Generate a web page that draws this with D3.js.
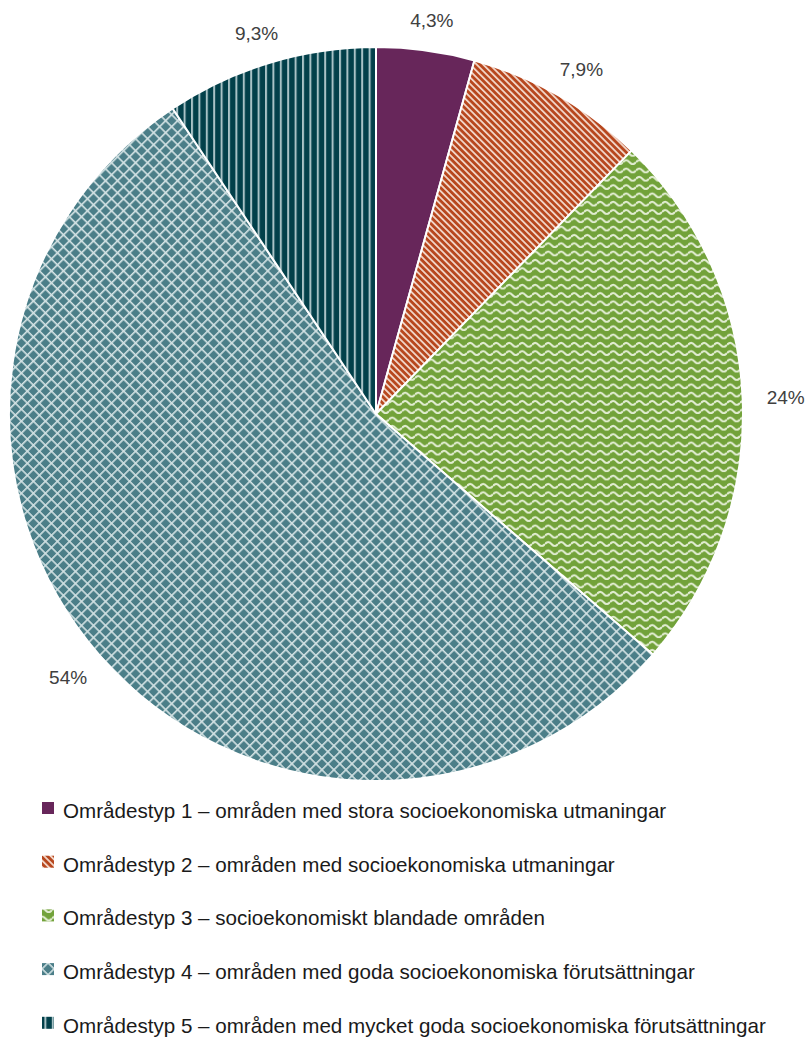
<!DOCTYPE html>
<html><head><meta charset="utf-8">
<script src="https://cdnjs.cloudflare.com/ajax/libs/d3/7.8.5/d3.min.js"></script>
<style>html,body{margin:0;padding:0;background:#fff;}svg{display:block;}</style>
</head><body>
<svg id="chart" width="808" height="1037"></svg>
<script>
const categories = [
  "Områdestyp 1 – områden med stora socioekonomiska utmaningar",
  "Områdestyp 2 – områden med socioekonomiska utmaningar",
  "Områdestyp 3 – socioekonomiskt blandade områden",
  "Områdestyp 4 – områden med goda socioekonomiska förutsättningar",
  "Områdestyp 5 – områden med mycket goda socioekonomiska förutsättningar"
];
const values = [4.3, 7.9, 24, 54, 9.3];
const valueLabels = ["4,3%", "7,9%", "24%", "54%", "9,3%"];
const baseColors = ["#67265A", "#B7471E", "#72A23A", "#4B7E88", "#02404A"];

const W = 808, H = 1037;
const cx = 376, cy = 414, R = 367;
const svg = d3.select("#chart");
const defs = svg.append("defs");

function pat(id, w, h, base, transform) {
  const p = defs.append("pattern").attr("id", id).attr("patternUnits", "userSpaceOnUse")
    .attr("width", w).attr("height", h);
  if (transform) p.attr("patternTransform", transform);
  p.append("rect").attr("width", w).attr("height", h).attr("fill", base);
  return p;
}
// type 2: diagonal stripes
pat("p1", 4.6, 4.6, baseColors[1], "rotate(-45)")
  .append("rect").attr("x", 0).attr("y", 0).attr("width", 1.8).attr("height", 4.6).attr("fill", "#f2d6c8");
// type 3: waves
pat("p2", 13, 8.3, baseColors[2], null)
  .append("path").attr("d", "M0,5.5 Q3.25,1.5 6.5,5.5 T13,5.5").attr("fill", "none")
  .attr("stroke", "#e2edd2").attr("stroke-width", 2);
// type 4: diamond lattice
const p3 = pat("p3", 8.5, 8.5, baseColors[3], "rotate(45)");
p3.append("rect").attr("x", 0).attr("y", 0).attr("width", 1.6).attr("height", 8.5).attr("fill", "#d3e2e4");
p3.append("rect").attr("x", 0).attr("y", 0).attr("width", 8.5).attr("height", 1.6).attr("fill", "#d3e2e4");
// type 5: vertical lines
pat("p4", 7.4, 7.4, baseColors[4], null)
  .append("rect").attr("x", 0).attr("y", 0).attr("width", 2).attr("height", 7.4).attr("fill", "#a8c2c6");

const fills = [baseColors[0], "url(#p1)", "url(#p2)", "url(#p3)", "url(#p4)"];

const data = categories.map((c, i) => ({ cat: c, value: values[i], label: valueLabels[i], i }));
const pie = d3.pie().value(d => d.value).sort(null).startAngle(0).endAngle(2 * Math.PI);
const arcs = pie(data);
const arc = d3.arc().innerRadius(0).outerRadius(R);

const g = svg.append("g").attr("transform", `translate(${cx},${cy})`);
g.selectAll("path.slice").data(arcs).join("path").attr("class", "slice")
  .attr("d", arc).attr("fill", d => fills[d.data.i])
  .attr("stroke", "#fff").attr("stroke-width", 2).attr("stroke-linejoin", "round");

const fontFam = "'Liberation Sans', Arial, Helvetica, sans-serif";
const labelG = g.append("g");
arcs.forEach(d => {
  const a = (d.startAngle + d.endAngle) / 2;
  const s = Math.sin(a), c = -Math.cos(a);
  const t = labelG.append("text").attr("font-family", fontFam).attr("font-size", 19)
    .attr("fill", "#404040").attr("text-anchor", "middle").text(d.data.label);
  const bb = t.node().getBBox();
  const w = bb.width, h = 14;
  const x = (R + 24) * s + (w / 2) * s;
  const y = (R + 24) * c + (h / 2) * c;
  t.attr("x", x).attr("y", y + h / 2);
});

const legY0 = 818, legStep = 53.7;
const leg = svg.append("g");
data.forEach((d, i) => {
  const y = legY0 + i * legStep;
  leg.append("rect").attr("x", 42).attr("y", y - 16).attr("width", 12).attr("height", 12)
    .attr("fill", fills[i]);
  leg.append("text").attr("x", 63).attr("y", y).attr("font-family", fontFam)
    .attr("font-size", 20.6).attr("fill", "#1a1a1a").text(d.cat);
});
</script>
</body></html>
